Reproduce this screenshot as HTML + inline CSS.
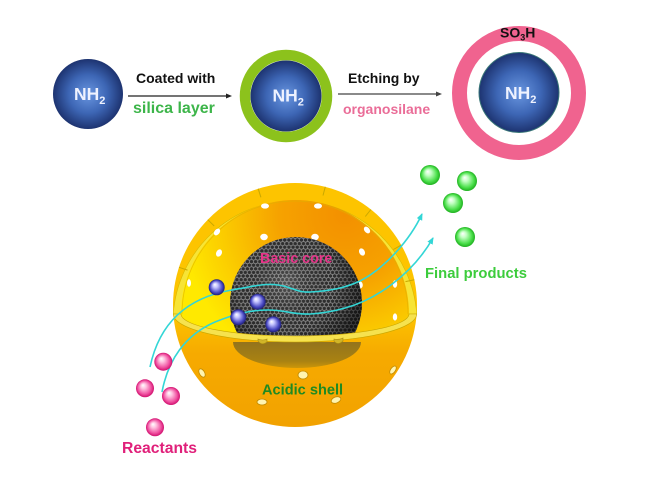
<!DOCTYPE html>
<html><head><meta charset="utf-8"><style>
html,body{margin:0;padding:0;background:#fff;}
svg{display:block;}
text{font-family:"Liberation Sans",Arial,sans-serif;font-weight:bold;}
</style></head><body>
<svg width="650" height="488" viewBox="0 0 650 488" xmlns="http://www.w3.org/2000/svg">
<defs>
 <radialGradient id="bl" cx="0.5" cy="0.5" r="0.5">
   <stop offset="0" stop-color="#6996e0"/>
   <stop offset="0.55" stop-color="#3d66b5"/>
   <stop offset="1" stop-color="#1d3370"/>
 </radialGradient>
 <radialGradient id="inter" gradientUnits="userSpaceOnUse" cx="345" cy="215" r="165">
   <stop offset="0" stop-color="#f39000"/>
   <stop offset="0.4" stop-color="#f6a200"/>
   <stop offset="0.75" stop-color="#fbcc00"/>
   <stop offset="1" stop-color="#ffe900"/>
 </radialGradient>
 <linearGradient id="lower" gradientUnits="userSpaceOnUse" x1="0" y1="314" x2="0" y2="428">
   <stop offset="0" stop-color="#fdc400"/>
   <stop offset="0.35" stop-color="#f6aa00"/>
   <stop offset="1" stop-color="#f2a200"/>
 </linearGradient>
 <linearGradient id="shade" gradientUnits="userSpaceOnUse" x1="0" y1="343" x2="0" y2="369">
   <stop offset="0" stop-color="#94741c"/>
   <stop offset="0.7" stop-color="#a98212"/>
   <stop offset="1" stop-color="#d09a08"/>
 </linearGradient>
 <pattern id="hex" width="4.157" height="7.2" patternUnits="userSpaceOnUse">
   <rect width="4.157" height="7.2" fill="#2e2e2e"/>
   <path d="M2.078,0 L4.157,1.2 L4.157,3.6 L2.078,4.8 L0,3.6 L0,1.2 Z M2.078,4.8 L2.078,7.2" fill="none" stroke="#959595" stroke-width="0.75"/>
 </pattern>
 <radialGradient id="coreSh" cx="0.42" cy="0.35" r="0.6">
   <stop offset="0" stop-color="#fff" stop-opacity="0.18"/>
   <stop offset="0.6" stop-color="#000" stop-opacity="0"/>
   <stop offset="1" stop-color="#000" stop-opacity="0.55"/>
 </radialGradient>
 <radialGradient id="bb" cx="0.5" cy="0.5" r="0.5" fx="0.38" fy="0.32">
   <stop offset="0" stop-color="#ffffff"/>
   <stop offset="0.3" stop-color="#c4c4ff"/>
   <stop offset="0.75" stop-color="#4b4bc4"/>
   <stop offset="1" stop-color="#1e1e78"/>
 </radialGradient>
 <radialGradient id="pb" cx="0.5" cy="0.5" r="0.5" fx="0.38" fy="0.32">
   <stop offset="0" stop-color="#ffffff"/>
   <stop offset="0.3" stop-color="#ffc2e0"/>
   <stop offset="0.75" stop-color="#f050a0"/>
   <stop offset="1" stop-color="#d0106e"/>
 </radialGradient>
 <radialGradient id="gb" cx="0.5" cy="0.5" r="0.5" fx="0.38" fy="0.32">
   <stop offset="0" stop-color="#ffffff"/>
   <stop offset="0.3" stop-color="#c4ffc4"/>
   <stop offset="0.75" stop-color="#4ce04c"/>
   <stop offset="1" stop-color="#1fb01f"/>
 </radialGradient>
 <clipPath id="cc">
   <path d="M181,314 A114,114 0 0 1 409,314 A114,22 0 0 1 181,314 Z"/>
 </clipPath>
 <marker id="ca" markerWidth="9" markerHeight="8" refX="6" refY="3" orient="auto" markerUnits="userSpaceOnUse">
   <path d="M0,0 L7,3 L0,6 Z" fill="#33d6d6"/>
 </marker>
</defs>

<!-- Top row -->
<circle cx="88" cy="94" r="35" fill="url(#bl)"/>
<text x="74" y="100" font-size="17.5" fill="#eef2ff">NH<tspan font-size="11" dy="4">2</tspan></text>

<line x1="128" y1="96" x2="227" y2="96" stroke="#222" stroke-width="1.2"/>
<polygon points="226,93.5 232,96 226,98.5" fill="#222"/>
<text x="136" y="83" font-size="14" fill="#111">Coated with</text>
<text x="133" y="113" font-size="16" fill="#3db54a">silica layer</text>

<circle cx="286" cy="96" r="41" fill="none" stroke="#8cc21c" stroke-width="10.5"/>
<circle cx="286" cy="96" r="35.5" fill="url(#bl)"/>
<text x="272.5" y="101.5" font-size="17.5" fill="#eef2ff">NH<tspan font-size="11" dy="4">2</tspan></text>

<line x1="338" y1="94" x2="437" y2="94" stroke="#444" stroke-width="1.2"/>
<polygon points="436,91.5 442,94 436,96.5" fill="#444"/>
<text x="348" y="83" font-size="14" fill="#111">Etching by</text>
<text x="343" y="114" font-size="14" fill="#ea6d98">organosilane</text>

<circle cx="519" cy="93" r="59.5" fill="none" stroke="#f0638f" stroke-width="15"/>
<circle cx="519" cy="92.5" r="40" fill="url(#bl)" stroke="#3a7878" stroke-width="1"/>
<text x="505" y="99" font-size="17.5" fill="#eef2ff">NH<tspan font-size="11" dy="4">2</tspan></text>
<text x="500" y="37.7" font-size="14" fill="#111">SO<tspan font-size="9" dy="3">3</tspan><tspan dy="-3">H</tspan></text>

<!-- Sphere -->
<circle cx="295" cy="305" r="122" fill="url(#lower)"/>
<path d="M173.3,314 A122,122 0 0 1 416.7,314 Z" fill="#f7e436" stroke="#d8b800" stroke-width="0.6"/>
<path d="M181,314 A114,114 0 0 1 409,314 A114,22 0 0 1 181,314 Z" fill="url(#inter)"/>
<path d="M182,314 A113,113 0 0 1 408,314" fill="none" stroke="#e0b000" stroke-width="0.8" opacity="0.7"/>
<g stroke="#c9a800" stroke-width="1">
 <line x1="258.2" y1="188.7" x2="260.9" y2="197.3"/>
 <line x1="325.3" y1="186.8" x2="323" y2="195.5"/>
 <line x1="370.9" y1="209.5" x2="365.3" y2="216.5"/>
 <line x1="207.8" y1="219.7" x2="214.2" y2="226"/>
 <line x1="401.3" y1="245.1" x2="393.4" y2="249.5"/>
 <line x1="179" y1="267.3" x2="187.5" y2="270.1"/>
 <line x1="414.3" y1="279.7" x2="405.5" y2="281.6"/>
</g>
<g fill="#ffffff">
 <ellipse cx="265" cy="206" rx="4" ry="2.6"/>
 <ellipse cx="318" cy="206" rx="4" ry="2.6"/>
 <ellipse cx="217" cy="232" rx="2.6" ry="3.8" transform="rotate(40 217 232)"/>
 <ellipse cx="367" cy="230" rx="2.6" ry="3.8" transform="rotate(-40 367 230)"/>
 <ellipse cx="264" cy="237" rx="3.8" ry="3.2"/>
 <ellipse cx="315" cy="237" rx="3.8" ry="3.2"/>
 <ellipse cx="219" cy="253" rx="2.8" ry="3.8" transform="rotate(25 219 253)"/>
 <ellipse cx="362" cy="252" rx="2.8" ry="3.8" transform="rotate(-25 362 252)"/>
 <ellipse cx="189" cy="283" rx="2" ry="3.8"/>
 <ellipse cx="395" cy="284" rx="2.2" ry="3.8"/>
 <ellipse cx="360" cy="285" rx="2.8" ry="3.6"/>
 <ellipse cx="395" cy="317" rx="2.2" ry="3.6"/>
</g>
<g clip-path="url(#cc)">
 <circle cx="296" cy="303" r="66" fill="url(#hex)"/>
 <circle cx="296" cy="303" r="66" fill="url(#coreSh)"/>
</g>
<path d="M233,342 A64,26 0 0 0 361,342 Z" fill="url(#shade)"/>
<path d="M173.3,314 A121.7,28 0 0 0 416.7,314 L409,314 A114,22 0 0 1 181,314 Z" fill="#f6e24e" stroke="#c8a600" stroke-width="0.6"/>
<g fill="#d2b628" stroke="#a88a10" stroke-width="0.6">
 <path d="M258,341 q4,5 9,1 l0,-3 q-4,2 -9,0 Z"/>
 <path d="M334,341 q4,5 9,0 l0,-3 q-4,2 -9,1 Z"/>
</g>
<g fill="#fff4b0" stroke="#c08a00" stroke-width="0.8">
 <ellipse cx="202" cy="373" rx="2.6" ry="4.6" transform="rotate(-30 202 373)"/>
 <ellipse cx="303" cy="375" rx="5" ry="4"/>
 <ellipse cx="262" cy="402" rx="5" ry="3"/>
 <ellipse cx="336" cy="400" rx="5" ry="3" transform="rotate(-20 336 400)"/>
 <ellipse cx="393" cy="370" rx="2.4" ry="4.6" transform="rotate(35 393 370)"/>
</g>

<text x="260" y="263" font-size="14.3" fill="#e8358a">Basic core</text>
<text x="262" y="394.5" font-size="14.6" fill="#1f8a22">Acidic shell</text>

<path d="M150,367 C160,320 190,297 232,290 C255,286 265,283 278,285 C292,287 298,293 310,292 C330,291 345,288 360,281 C385,268 410,240 422,214" fill="none" stroke="#33d6d6" stroke-width="1.6" marker-end="url(#ca)"/>
<path d="M162,392 C168,360 185,335 215,322 C235,314 250,310 268,310 C285,310 295,315 310,314 C325,313 335,311 345,308 C375,300 412,275 433,238" fill="none" stroke="#33d6d6" stroke-width="1.6" marker-end="url(#ca)"/>

<circle cx="216.7" cy="287.3" r="8" fill="url(#bb)"/>
<circle cx="257.7" cy="301.7" r="8" fill="url(#bb)"/>
<circle cx="238.3" cy="317.3" r="8" fill="url(#bb)"/>
<circle cx="273.3" cy="324.3" r="8" fill="url(#bb)"/>

<circle cx="163.3" cy="361.7" r="9" fill="url(#pb)"/>
<circle cx="145" cy="388.3" r="9" fill="url(#pb)"/>
<circle cx="171" cy="396" r="9" fill="url(#pb)"/>
<circle cx="155" cy="427.3" r="9" fill="url(#pb)"/>

<circle cx="430" cy="175" r="10" fill="url(#gb)"/>
<circle cx="467" cy="181" r="10" fill="url(#gb)"/>
<circle cx="453" cy="203" r="10" fill="url(#gb)"/>
<circle cx="465" cy="237" r="10" fill="url(#gb)"/>

<text x="425" y="278" font-size="14.8" fill="#3ccc3c">Final products</text>
<text x="122" y="453" font-size="15.7" fill="#e0207a">Reactants</text>
</svg>
</body></html>
